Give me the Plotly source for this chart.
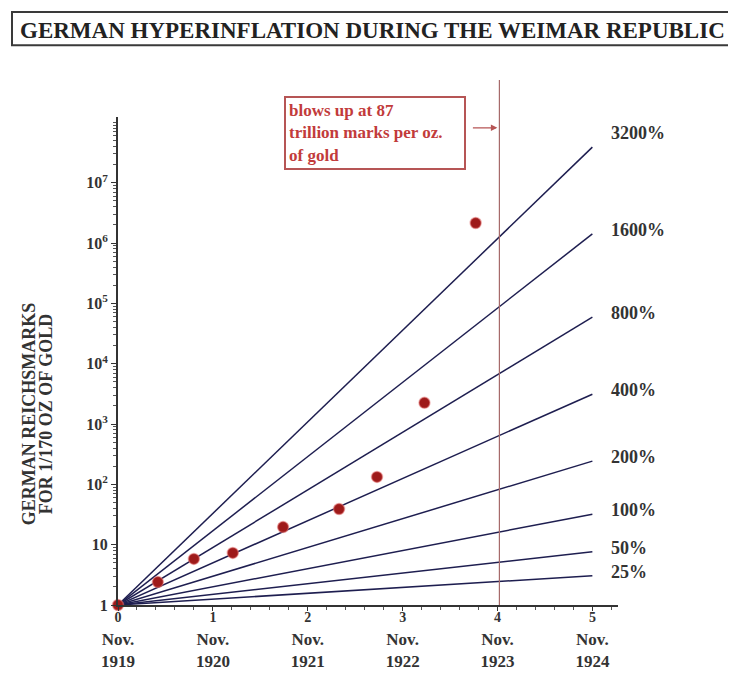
import math
import plotly.graph_objects as go

# ---- data ----
x_years = [0.0, 0.42, 0.80, 1.21, 1.74, 2.33, 2.73, 3.23, 3.77]
price_marks = [1, 2.4, 5.8, 7.3, 19.6, 39, 133, 2250, 2.15e6]

rate_labels = ["25%", "50%", "100%", "200%", "400%", "800%", "1600%", "3200%"]
line_start_values = [1, 1, 1, 1, 1, 1, 1, 1]
line_end_values = [3.05, 7.6, 32, 243, 3125, 59049, 1.42e6, 3.9e7]
line_x = [0, 5]

x_tick_vals = [0, 1, 2, 3, 4, 5]
x_tick_years = ["1919", "1920", "1921", "1922", "1923", "1924"]
y_tick_vals = [1, 10, 100, 1e3, 1e4, 1e5, 1e6, 1e7]
y_tick_text = ["1", "10", "10<sup>2</sup>", "10<sup>3</sup>", "10<sup>4</sup>",
               "10<sup>5</sup>", "10<sup>6</sup>", "10<sup>7</sup>"]
blowup_x = 4.02
note_text = "blows up at 87<br>trillion marks per oz.<br>of gold"
y_title_lines = ["GERMAN REICHSMARKS", "FOR 1/170 OZ OF GOLD"]

SERIF = "Liberation Serif"
LINE_COLOR = "#1e1e50"
DOT_COLOR = "#9e1a1a"
RED = "#c23b3b"

fig = go.Figure()

for lbl, y0, y1 in zip(rate_labels, line_start_values, line_end_values):
    fig.add_trace(go.Scatter(x=line_x, y=[y0, y1], mode="lines",
                             line=dict(color=LINE_COLOR, width=1.5),
                             hoverinfo="skip", showlegend=False))
    fig.add_annotation(x=line_x[1], y=math.log10(y1), text=lbl,
                       showarrow=False, xanchor="left", yanchor="middle",
                       xshift=17, yshift=14 if lbl == "3200%" else 4,
                       font=dict(family=SERIF, size=18, color="#333333", weight="bold"))

fig.add_trace(go.Scatter(x=x_years, y=price_marks, mode="markers",
                         marker=dict(color=DOT_COLOR, size=11,
                                     line=dict(color="rgba(230,120,120,0.5)", width=1.5)),
                         cliponaxis=False, showlegend=False))

# vertical "blow up" line
fig.add_shape(type="line", xref="x", yref="paper", x0=blowup_x, x1=blowup_x,
              y0=0, y1=1.076, line=dict(color="#a66a6a", width=1.2))

# note box
fig.add_annotation(xref="x", yref="y", x=2.71, y=7.83, text=note_text,
                   showarrow=False, align="left", xanchor="center", yanchor="middle",
                   width=172, height=64, borderpad=3,
                   bordercolor="#b65555", borderwidth=2, bgcolor="white",
                   font=dict(family=SERIF, size=17, color=RED, weight="bold"))
# arrow to the line
fig.add_annotation(xref="x", yref="y", x=blowup_x, y=7.91, ax=-28, ay=0, text="",
                   showarrow=True, arrowhead=2, arrowsize=1, arrowwidth=1.3,
                   arrowcolor="#b65555", standoff=2)

# title box
fig.add_shape(type="rect", xref="paper", yref="paper", x0=-0.212, x1=1.23,
              y0=1.147, y1=1.215, line=dict(color="#3a3a3a", width=2),
              fillcolor="white", layer="below")

# y-axis title (two lines)
for line_txt, xp in zip(y_title_lines, [-0.178, -0.144]):
    fig.add_annotation(xref="paper", yref="paper", x=xp, y=0.391,
                       text=line_txt, textangle=-90,
                       showarrow=False, xanchor="center", yanchor="middle",
                       font=dict(family=SERIF, size=18, color="#333333", weight="bold"))

x_tick_text = [f"<span style='font-size:14px'>{v}</span><br>Nov.<br>{yr}"
               for v, yr in zip(x_tick_vals, x_tick_years)]

fig.update_layout(
    width=736, height=675,
    margin=dict(l=110, r=126, t=109, b=78, autoexpand=False),
    paper_bgcolor="white", plot_bgcolor="white",
    title=dict(text="GERMAN HYPERINFLATION DURING THE WEIMAR REPUBLIC",
               x=12 / 736, xanchor="left", y=1 - 22 / 675, yanchor="middle",
               pad=dict(l=0, r=0, t=0, b=0),
               font=dict(family=SERIF, size=23, color="#222222", weight="bold")),
    xaxis=dict(range=[0, 5.27], tickvals=x_tick_vals, ticktext=x_tick_text,
               automargin=False, ticklabelstandoff=-9,
               showgrid=False, zeroline=False, showline=True, linecolor="#333333",
               linewidth=2, ticks="outside", ticklen=4, tickcolor="#333333",
               minor=dict(ticks="outside", ticklen=3, dtick=0.2, tickcolor="#555555"),
               tickfont=dict(family=SERIF, size=17, color="#333333", weight="bold")),
    yaxis=dict(type="log", range=[0, 8.09], tickvals=y_tick_vals, ticktext=y_tick_text,
               automargin=False,
               showgrid=False, zeroline=False, showline=True, linecolor="#333333",
               linewidth=2, ticks="outside", ticklen=5, tickcolor="#333333",
               minor=dict(ticks="outside", ticklen=3, dtick="D1", tickcolor="#555555"),
               tickfont=dict(family=SERIF, size=16, color="#333333", weight="bold")),
)

fig.write_html("out.html")
